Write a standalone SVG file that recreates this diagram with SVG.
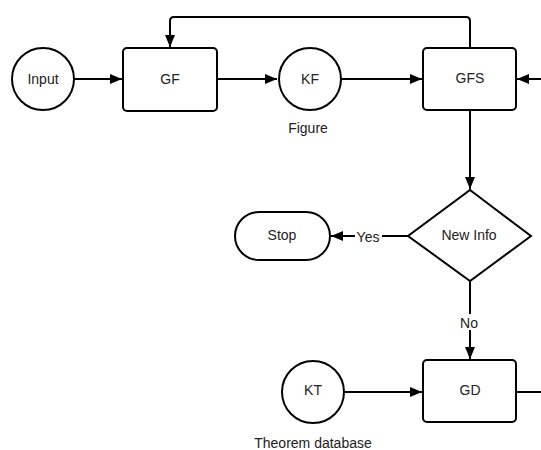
<svg xmlns="http://www.w3.org/2000/svg" width="541" height="450" viewBox="0 0 541 450">
<defs>
<style>
.n{fill:#fff;stroke:#000;stroke-width:2}
.c{fill:none;stroke:#000;stroke-width:2}
text{font-family:"Liberation Sans",Arial,sans-serif;font-size:14px;fill:#222;text-anchor:middle;dominant-baseline:central}
.lbl{fill:#fff;stroke:none}
</style>
<marker id="a" viewBox="0 0 12 10" refX="12" refY="5" markerWidth="12" markerHeight="10" markerUnits="userSpaceOnUse" orient="auto">
<path d="M0,0 L12,5 L0,10 Z" fill="#000"/>
</marker>
</defs>
<rect width="541" height="450" fill="#fff"/>
<g id="connectors">
<path class="c" d="M74,79 H122" marker-end="url(#a)"/>
<path class="c" d="M217,79 H277" marker-end="url(#a)"/>
<path class="c" d="M341,79 H422" marker-end="url(#a)"/>
<path class="c" d="M541,79 H517" marker-end="url(#a)"/>
<path class="c" d="M470,48 V21 Q470,17 466,17 H174 Q170,17 170,21 V47" marker-end="url(#a)"/>
<path class="c" d="M470,110 V189" marker-end="url(#a)"/>
<path class="c" d="M408,236 H331" marker-end="url(#a)"/>
<path class="c" d="M470,281 V359" marker-end="url(#a)"/>
<path class="c" d="M345,392 H422" marker-end="url(#a)"/>
<path class="c" d="M516,392 H541"/>
<rect class="lbl" x="355" y="228" width="27" height="16"/>
<text x="368" y="237">Yes</text>
<rect class="lbl" x="458" y="314" width="23" height="16"/>
<text x="469" y="323">No</text>
</g>
<g id="input"><circle class="n" cx="43" cy="79" r="31"/><text x="43" y="79">Input</text></g>
<g id="gf"><rect class="n" x="123" y="48" width="94" height="63" rx="4"/><text x="170" y="79">GF</text></g>
<g id="kf"><circle class="n" cx="310" cy="79" r="31"/><text x="310" y="79">KF</text><text x="308" y="128">Figure</text></g>
<g id="gfs"><rect class="n" x="423" y="48" width="93" height="62" rx="4"/><text x="470" y="78">GFS</text></g>
<g id="newinfo"><path class="n" d="M470,190 L531,236 L470,281 L408,236 Z"/><text x="469" y="235">New Info</text></g>
<g id="stop"><rect class="n" x="235" y="212" width="95" height="48" rx="24"/><text x="282" y="235">Stop</text></g>
<g id="gd"><rect class="n" x="423" y="360" width="93" height="62" rx="4"/><text x="470" y="390">GD</text></g>
<g id="kt"><circle class="n" cx="313" cy="392" r="31"/><text x="313" y="390">KT</text><text x="313" y="443">Theorem database</text></g>
</svg>
